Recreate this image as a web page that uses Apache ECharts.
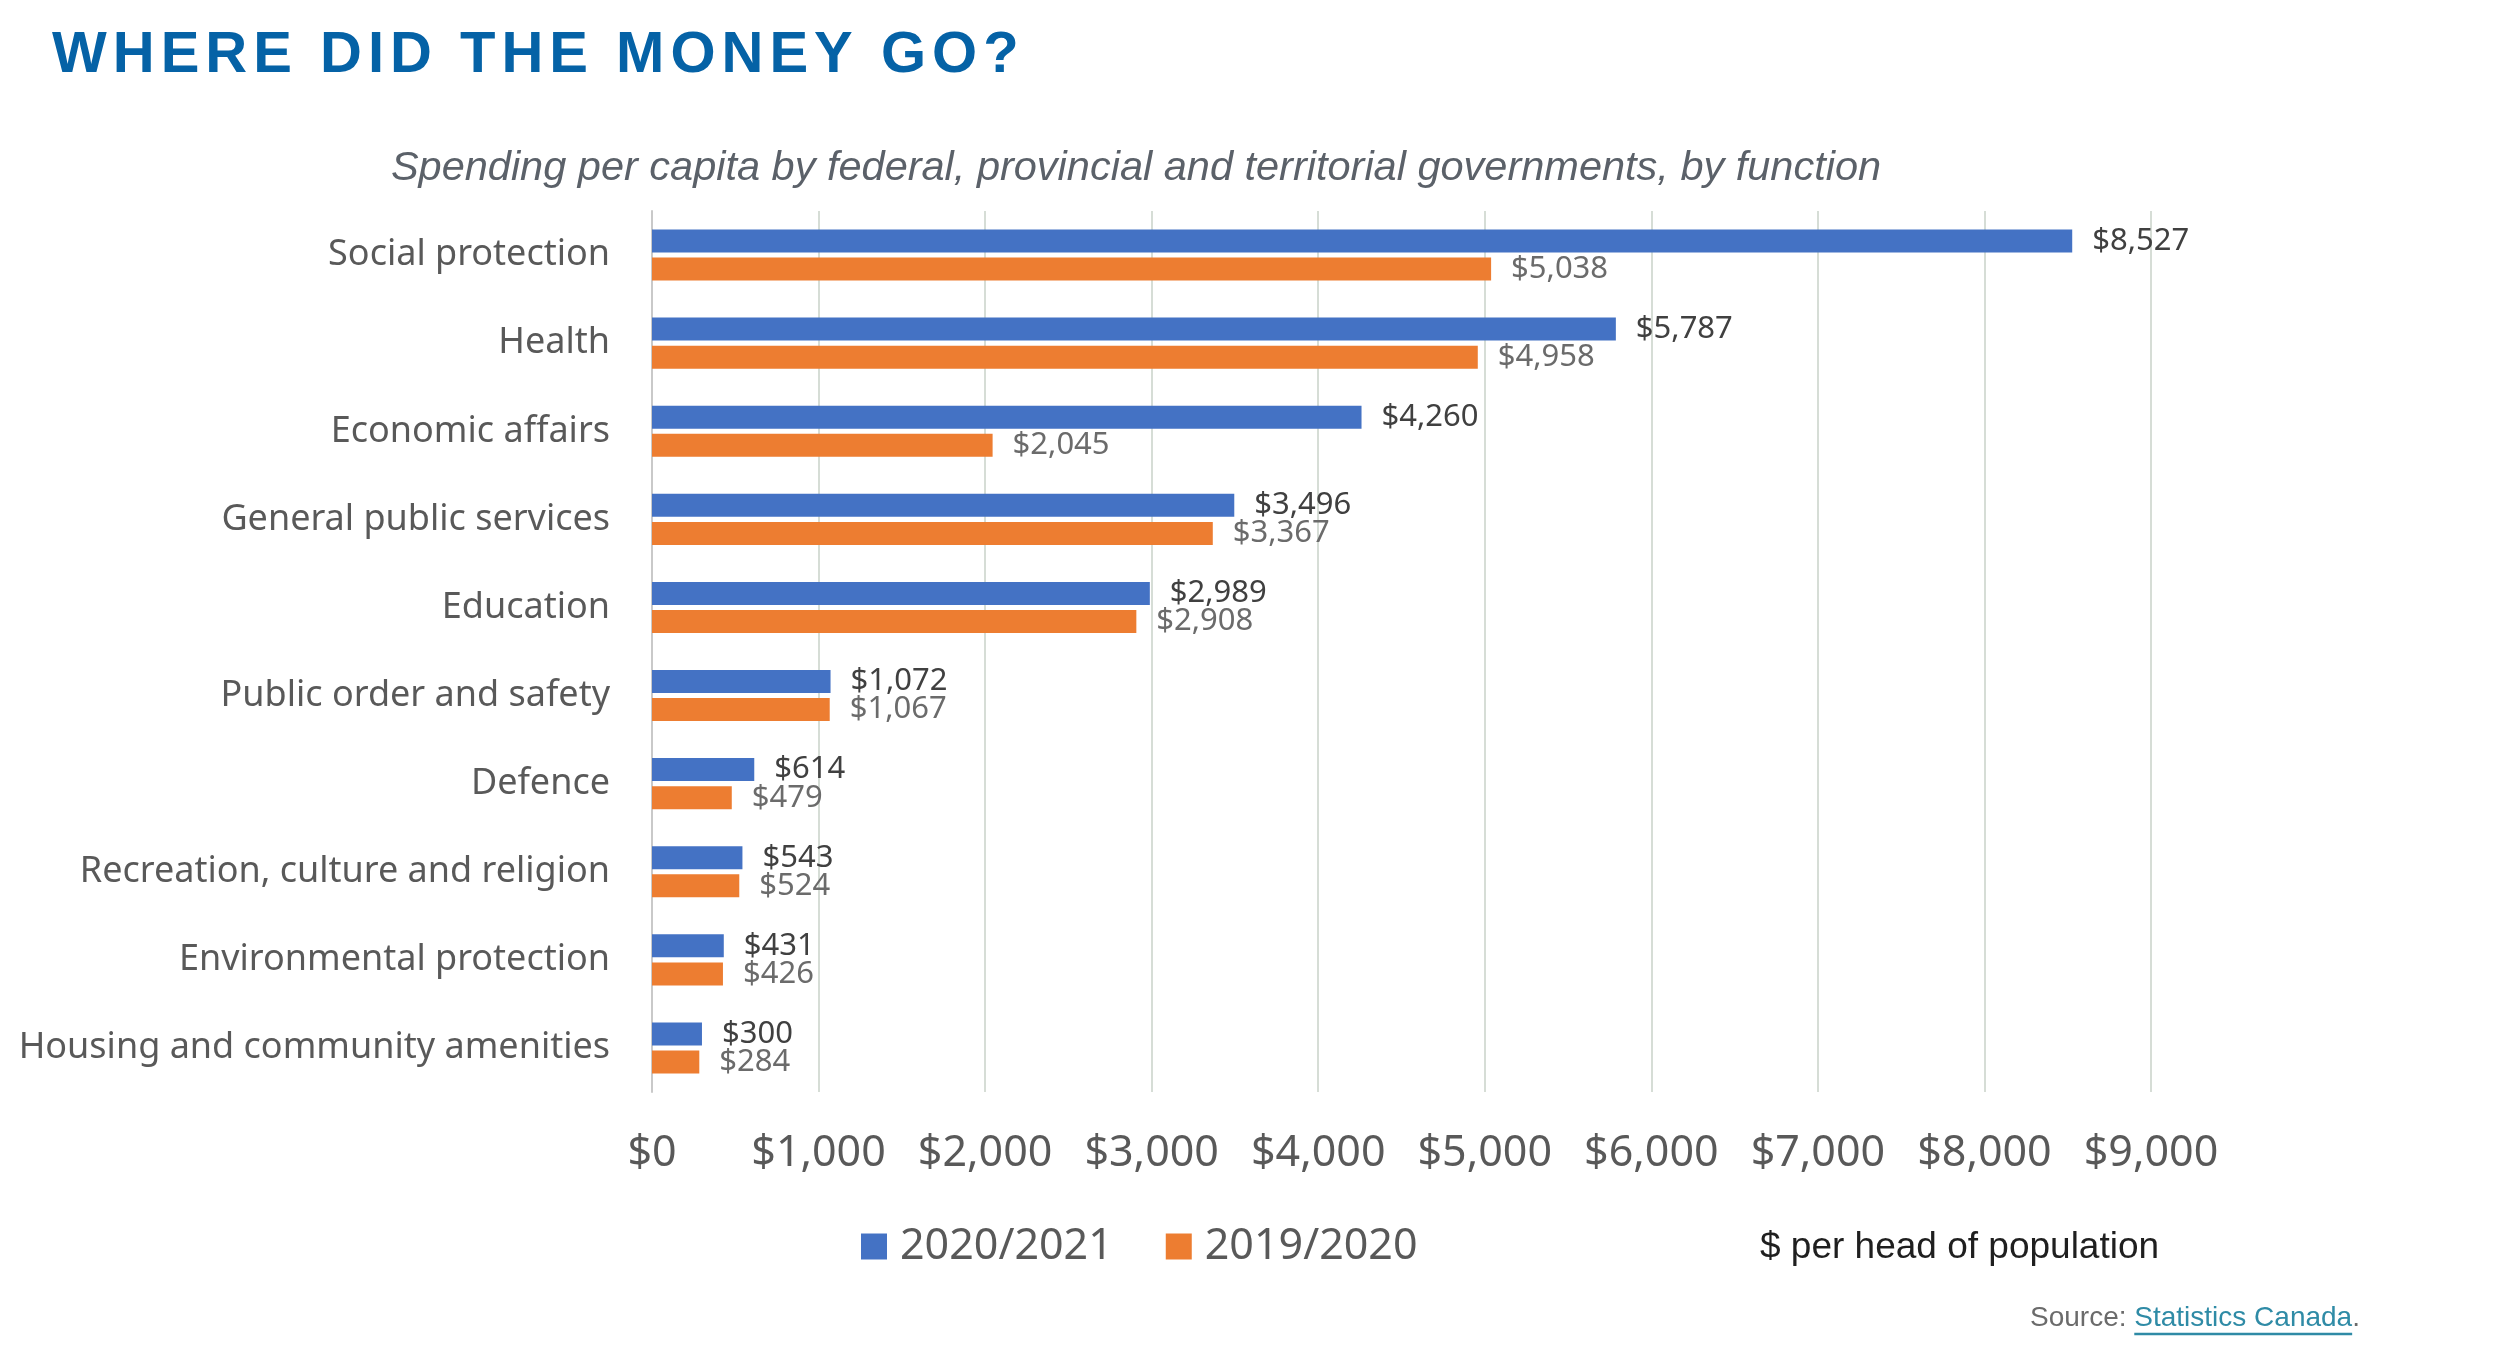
<!DOCTYPE html>
<html>
<head>
<meta charset="utf-8">
<script src="https://cdn.jsdelivr.net/npm/echarts@6/dist/echarts.min.js"></script>
<style>
html,body{margin:0;padding:0;background:#fff;}
#chart{width:2500px;height:1350px;}
</style>
</head>
<body>
<div id="chart"></div>
<script>
// functions, top to bottom
var categories = ['Social protection', 'Health', 'Economic affairs', 'General public services', 'Education',
    'Public order and safety', 'Defence', 'Recreation, culture and religion', 'Environmental protection',
    'Housing and community amenities'];
var seriesNames = ['2020/2021', '2019/2020'];
var values2021 = [8527, 5787, 4260, 3496, 2989, 1072, 614, 543, 431, 300];
var values2020 = [5038, 4958, 2045, 3367, 2908, 1067, 479, 524, 426, 284];
var xTicks = [0, 1000, 2000, 3000, 4000, 5000, 6000, 7000, 8000, 9000];

var titleText = 'WHERE DID THE MONEY GO?';

var myChart = echarts.init(document.getElementById('chart'));

function money(v) {
    return '$' + Number(v).toLocaleString('en-US');
}

// spaced out title: one rich token per letter
var spacedTitle = titleText.split('').map(function (c) {
    return '{s|' + c + '}';
}).join('');

// lay out the source line left to right
var srcFont = '28px "Liberation Sans"';
var mctx = document.createElement('canvas').getContext('2d');
mctx.font = srcFont;
var srcX = 2030;
var wSource = mctx.measureText('Source: ').width;
var wLink = mctx.measureText('Statistics Canada').width;

var option = {
    backgroundColor: '#ffffff',
    animation: false,
    title: {
        text: spacedTitle,
        left: 44,
        top: 22,
        textStyle: {
            rich: {
                s: {
                    color: '#0562a6',
                    fontFamily: 'Liberation Sans',
                    fontWeight: 'bold',
                    fontSize: 58,
                    padding: [0, 3, 0, 3]
                }
            }
        }
    },
    legend: {
        data: seriesNames,
        left: 856,
        top: 1220,
        icon: 'rect',
        itemWidth: 26,
        itemHeight: 26,
        itemGap: 53,
        textStyle: {
            color: '#595959',
            fontFamily: 'Noto Sans',
            fontSize: 43,
            padding: [0, 0, 0, 8]
        }
    },
    grid: {
        left: 652,
        right: 349,
        top: 211,
        bottom: 258,
        containLabel: false
    },
    xAxis: {
        type: 'value',
        min: xTicks[0],
        max: xTicks[xTicks.length - 1],
        interval: xTicks[1] - xTicks[0],
        axisLine: {show: false},
        axisTick: {show: false},
        splitLine: {
            show: true,
            lineStyle: {color: '#d6ddd6', width: 2}
        },
        axisLabel: {
            margin: 40,
            color: '#595959',
            fontFamily: 'Noto Sans',
            fontSize: 43,
            formatter: money
        }
    },
    yAxis: {
        type: 'category',
        inverse: true,
        data: categories,
        axisTick: {show: false},
        axisLine: {show: true, lineStyle: {color: '#c9c9c9', width: 2}},
        axisLabel: {
            margin: 42,
            color: '#595959',
            fontFamily: 'Noto Sans',
            fontSize: 36
        }
    },
    series: [
        {
            name: seriesNames[0],
            type: 'bar',
            data: values2021,
            barWidth: 23,
            barGap: '22%',
            itemStyle: {color: '#4472c4'},
            label: {
                show: true,
                position: 'right',
                distance: 20,
                color: '#404040',
                fontFamily: 'Noto Sans',
                fontSize: 31,
                formatter: function (p) { return money(p.value); }
            }
        },
        {
            name: seriesNames[1],
            type: 'bar',
            data: values2020,
            barWidth: 23,
            barGap: '22%',
            itemStyle: {color: '#ed7d31'},
            label: {
                show: true,
                position: 'right',
                distance: 20,
                color: '#6b6b6b',
                fontFamily: 'Noto Sans',
                fontSize: 31,
                formatter: function (p) { return money(p.value); }
            }
        }
    ],
    graphic: [
        {
            type: 'text',
            x: 1136,
            y: 168,
            style: {
                text: 'Spending per capita by federal, provincial and territorial governments, by function',
                align: 'center',
                verticalAlign: 'middle',
                fill: '#5b6169',
                font: 'italic 41.5px "Liberation Sans"'
            }
        },
        {
            type: 'text',
            x: 1760,
            y: 1248,
            style: {
                text: '$ per head of population',
                align: 'left',
                verticalAlign: 'middle',
                fill: '#1f1f1f',
                font: '37px "Liberation Sans"'
            }
        },
        {
            type: 'text',
            x: srcX,
            y: 1318,
            style: {
                text: 'Source: ',
                align: 'left',
                verticalAlign: 'middle',
                fill: '#6b6b6b',
                font: srcFont
            }
        },
        {
            type: 'text',
            x: srcX + wSource,
            y: 1318,
            style: {
                text: 'Statistics Canada',
                align: 'left',
                verticalAlign: 'middle',
                fill: '#2f8ba6',
                font: srcFont
            }
        },
        {
            type: 'text',
            x: srcX + wSource + wLink,
            y: 1318,
            style: {
                text: '.',
                align: 'left',
                verticalAlign: 'middle',
                fill: '#6b6b6b',
                font: srcFont
            }
        },
        {
            // link underline
            type: 'line',
            shape: {x1: srcX + wSource, y1: 1334, x2: srcX + wSource + wLink, y2: 1334},
            style: {stroke: '#2f8ba6', lineWidth: 2.5}
        }
    ]
};

myChart.setOption(option);
</script>
</body>
</html>
